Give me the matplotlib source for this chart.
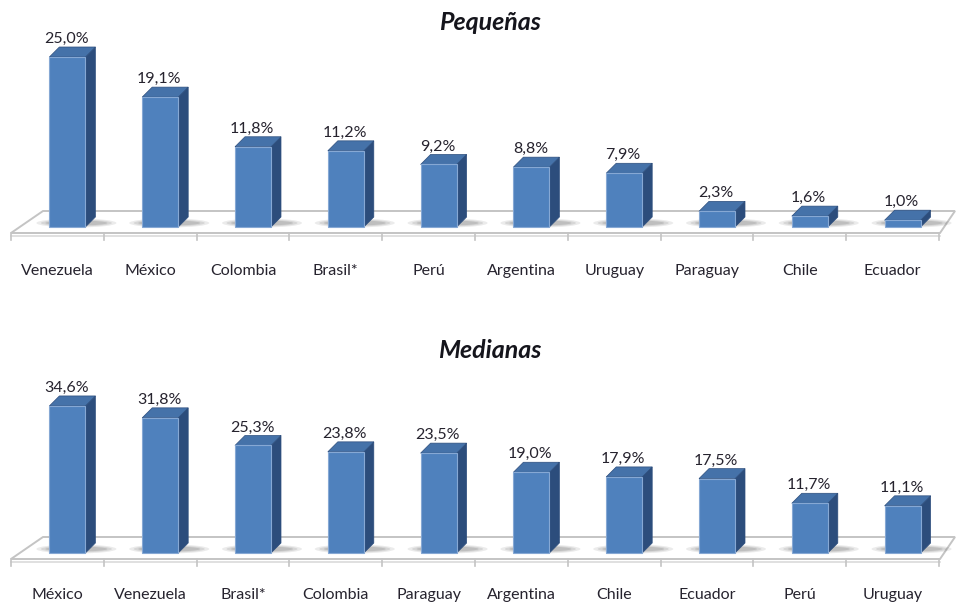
import numpy as np
import matplotlib
matplotlib.use("Agg")
import matplotlib.pyplot as plt
from matplotlib.patches import Polygon, Ellipse

# Datos (% por país)
pequenas_paises = ["Venezuela", "México", "Colombia", "Brasil*", "Perú",
                   "Argentina", "Uruguay", "Paraguay", "Chile", "Ecuador"]
pequenas_vals = [25.0, 19.1, 11.8, 11.2, 9.2, 8.8, 7.9, 2.3, 1.6, 1.0]

medianas_paises = ["México", "Venezuela", "Brasil*", "Colombia", "Paraguay",
                   "Argentina", "Chile", "Ecuador", "Perú", "Uruguay"]
medianas_vals = [34.6, 31.8, 25.3, 23.8, 23.5, 19.0, 17.9, 17.5, 11.7, 11.1]

W, H, DPI = 958, 610, 100
FRONT = "#4f81bd"
SIDE = "#2c4d7c"
TOP = "#4572a9"
EDGE = "#86a8d4"
FLOOR_EDGE = "#c4c4c4"
TXT = "#26232e"
FONT = "Lato"

CAT_PX = 92.8      # ancho de categoría en px
LEFT_PX = 11       # borde izquierdo del piso
DEPTH_X, DEPTH_Y = 10, 10


def panel(fig, paises, vals, title, top_px, bot_px, zero_px, px_per_pct, title_px):
    # ejes en coordenadas de píxeles de la figura
    ax = fig.add_axes([0, 1 - bot_px / H, 1, (bot_px - top_px) / H])
    ax.set_xlim(-0.5 - LEFT_PX / CAT_PX, -0.5 + (W - LEFT_PX) / CAT_PX)
    ax.set_ylim(-(bot_px - zero_px) / px_per_pct, (zero_px - top_px) / px_per_pct)
    ax.axis("off")

    dx = DEPTH_X / CAT_PX
    dy = DEPTH_Y / px_per_pct
    n = len(vals)

    # piso
    yf = -6 / px_per_pct
    yb = 16 / px_per_pct
    xl, xr = -0.5, n - 0.5 + 1 / CAT_PX
    floor = Polygon([(xl, yf), (xr, yf), (xr + 15 / CAT_PX, yb), (xl + 32 / CAT_PX, yb)],
                    closed=True, facecolor="white", edgecolor=FLOOR_EDGE, lw=1.4, zorder=1)
    ax.add_patch(floor)
    ax.plot([xl, xr], [yf - 2.5 / px_per_pct] * 2, color="#dadada", lw=1.2, zorder=1)
    for k in range(n + 1):
        xt = -0.5 + k
        ax.plot([xt, xt], [yf, yf - 7 / px_per_pct], color=FLOOR_EDGE, lw=1.2, zorder=1)

    shift = 10 / CAT_PX
    w = 36 / CAT_PX
    for i, v in enumerate(vals):
        x0 = i + shift - w / 2
        x1 = x0 + w
        # sombra difusa
        for k, a in enumerate([0.12, 0.15, 0.2]):
            ax.add_patch(Ellipse((i + shift + dx / 2 + 4 / CAT_PX, dy * 0.4),
                                 (w + dx) + (34 - 9 * k) / CAT_PX, (9 - 2 * k) / px_per_pct,
                                 facecolor="#5e5e5e", edgecolor="none", alpha=a, zorder=2))
        ax.add_patch(Polygon([(x1, 0), (x1 + dx, dy), (x1 + dx, v + dy), (x1, v)],
                             closed=True, facecolor=SIDE, edgecolor=SIDE, lw=0.5, zorder=3))
        ax.add_patch(Polygon([(x0, v), (x1, v), (x1 + dx, v + dy), (x0 + dx, v + dy)],
                             closed=True, facecolor=TOP, edgecolor=SIDE, lw=0.5, zorder=3))
        ax.bar(i + shift, v, width=w, color=FRONT, edgecolor=EDGE, lw=0.8, zorder=4)
        ax.text(i + shift - 1 / CAT_PX, v + 18 / px_per_pct, f"{v:.1f}%".replace(".", ","),
                ha="center", va="center", fontsize=11.5, color=TXT, family=FONT, zorder=5)
        ax.text(i, -(bot_px - zero_px - 13) / px_per_pct, paises[i],
                ha="center", va="center", fontsize=11.5, color=TXT, family=FONT, zorder=5)

    fig.text(490 / W, 1 - title_px / H, title, ha="center", va="center",
             fontsize=18, fontweight="bold", fontstyle="italic", family=FONT, color="#15151c")
    return ax


fig = plt.figure(figsize=(W / DPI, H / DPI), dpi=DPI)
fig.patch.set_facecolor("white")

panel(fig, pequenas_paises, pequenas_vals, "Pequeñas",
      top_px=30, bot_px=284, zero_px=227, px_per_pct=6.8, title_px=22)
panel(fig, medianas_paises, medianas_vals, "Medianas",
      top_px=370, bot_px=608, zero_px=553, px_per_pct=4.25, title_px=351)

fig.savefig("out.png", dpi=DPI, facecolor="white")
